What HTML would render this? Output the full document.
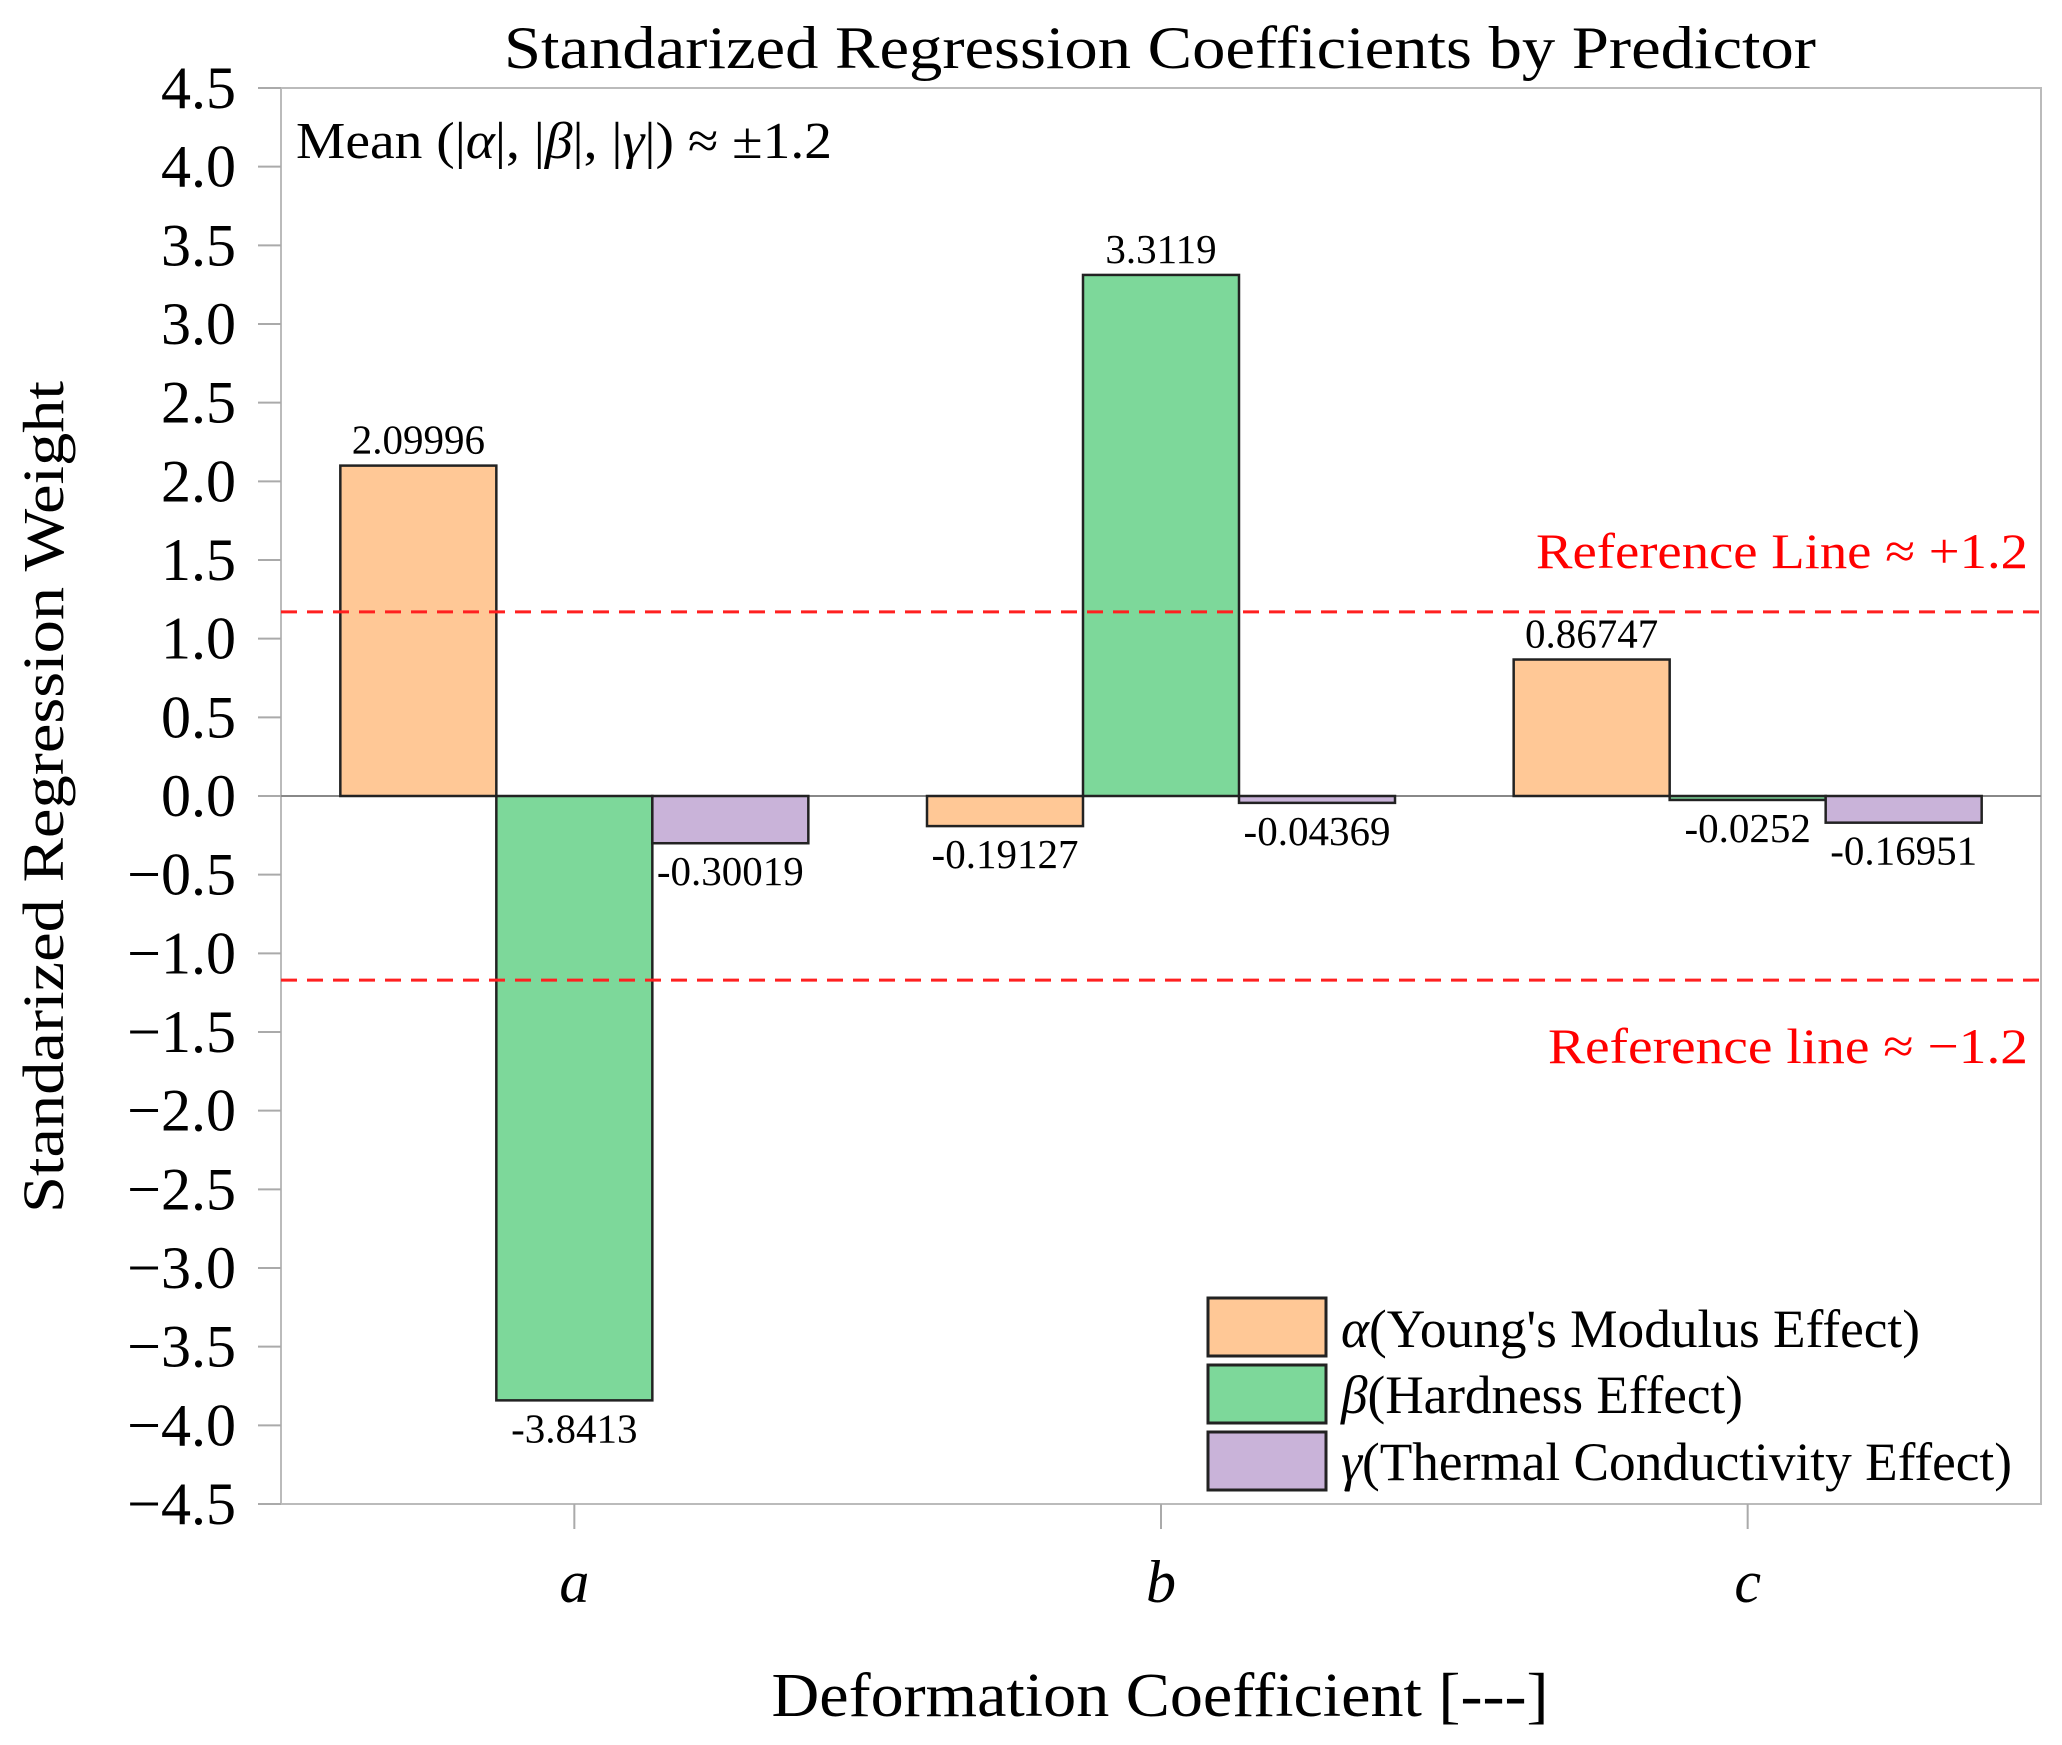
<!DOCTYPE html>
<html><head><meta charset="utf-8"><style>
html,body{margin:0;padding:0;background:#fff}
svg{display:block;font-family:"Liberation Serif",serif}
</style></head><body>
<svg id="chart" width="2062" height="1745" viewBox="0 0 2062 1745">
<text x="1160" y="68" font-size="60" text-anchor="middle" textLength="1312" lengthAdjust="spacingAndGlyphs">Standarized Regression Coefficients by Predictor</text>
<rect x="281" y="88" width="1760" height="1416" fill="none" stroke="#bbb" stroke-width="2"/>
<g id="yticks"></g><g id="xticks"></g><g id="bars"></g>
<text x="296" y="158" font-size="52" textLength="536" lengthAdjust="spacingAndGlyphs">Mean (|<tspan font-style="italic">α</tspan>|, |<tspan font-style="italic">β</tspan>|, |<tspan font-style="italic">γ</tspan>|) ≈ ±1.2</text>
<text x="1536" y="568" font-size="50" fill="#ff0000" textLength="492" lengthAdjust="spacingAndGlyphs">Reference Line ≈ +1.2</text>
<text x="1548" y="1063" font-size="50" fill="#ff0000" textLength="480" lengthAdjust="spacingAndGlyphs">Reference line ≈ −1.2</text>
<text x="63" y="797" font-size="58" text-anchor="middle" transform="rotate(-90 63 797)" textLength="832" lengthAdjust="spacingAndGlyphs">Standarized Regression Weight</text>
<text x="1160" y="1716" font-size="62" text-anchor="middle" textLength="777" lengthAdjust="spacingAndGlyphs">Deformation Coefficient [---]</text>
<g>
<rect x="1208" y="1298" width="118" height="58" fill="#ffc896" stroke="#222" stroke-width="3"/>
<text x="1341" y="1347" font-size="54" textLength="579" lengthAdjust="spacingAndGlyphs"><tspan font-style="italic">α</tspan>(Young's Modulus Effect)</text>
<rect x="1208" y="1365" width="118" height="58" fill="#7dd89a" stroke="#222" stroke-width="3"/>
<text x="1341" y="1413" font-size="54" textLength="402" lengthAdjust="spacingAndGlyphs"><tspan font-style="italic">β</tspan>(Hardness Effect)</text>
<rect x="1208" y="1432" width="118" height="58" fill="#c9b3d9" stroke="#222" stroke-width="3"/>
<text x="1341" y="1480" font-size="54" textLength="671" lengthAdjust="spacingAndGlyphs"><tspan font-style="italic">γ</tspan>(Thermal Conductivity Effect)</text>
</g>
</svg>
<script>
const categories = ['a','b','c'];
const alphaVals = [2.09996, -0.19127, 0.86747];
const betaVals = [-3.8413, 3.3119, -0.0252];
const gammaVals = [-0.30019, -0.04369, -0.16951];
const alphaLabels = ['2.09996','-0.19127','0.86747'];
const betaLabels = ['-3.8413','3.3119','-0.0252'];
const gammaLabels = ['-0.30019','-0.04369','-0.16951'];
const yTicks = [4.5,4.0,3.5,3.0,2.5,2.0,1.5,1.0,0.5,0.0,-0.5,-1.0,-1.5,-2.0,-2.5,-3.0,-3.5,-4.0,-4.5];
const refLevels = [1.17, -1.17];

const NS='http://www.w3.org/2000/svg';
const L=281,R=2041,T=88,B=1504;
function y(v){return T+(4.5-v)/9*(B-T);}
function x(i){return L+(i+0.5)/categories.length*(R-L);}
const bw=156;
function mk(tag,attrs,parent){const e=document.createElementNS(NS,tag);for(const k in attrs)e.setAttribute(k,attrs[k]);parent.appendChild(e);return e;}

const yg=document.getElementById('yticks');
yTicks.forEach(v=>{
  const l=mk('line',{x1:258,x2:L,y1:y(v),y2:y(v),stroke:'#aaa','stroke-width':2},yg);
  
  
  const t=mk('text',{x:236,y:y(v)+20,'font-size':60,'text-anchor':'end'},yg);
  t.textContent=(v<0?'\u2212':'')+Math.abs(v).toFixed(1);
  
  
});
const xg=document.getElementById('xticks');
categories.forEach((c,i)=>{
  const l=mk('line',{x1:x(i),x2:x(i),y1:B,y2:B+25,stroke:'#aaa','stroke-width':2},xg);
  
  
  const t=mk('text',{x:x(i),y:1602,'font-size':60,'font-style':'italic','text-anchor':'middle'},xg);
  t.textContent=c;
  
  
});
const bg=document.getElementById('bars');
const zl=mk('line',{x1:L,x2:R,y1:y(0),y2:y(0),stroke:'#888','stroke-width':2},bg);


const series=[[alphaVals,alphaLabels,'#ffc896','alpha'],[betaVals,betaLabels,'#7dd89a','beta'],[gammaVals,gammaLabels,'#c9b3d9','gamma']];
series.forEach((s,si)=>{
  s[0].forEach((v,i)=>{
    const cx=x(i)+(si-1)*bw;
    const top=Math.min(y(v),y(0)), h=Math.abs(y(v)-y(0));
    const r=mk('rect',{x:cx-bw/2,y:top,width:bw,height:Math.max(h,1),fill:s[2],stroke:'#222','stroke-width':2.5},bg);
    
    
    const t=mk('text',{x:cx,y:v>=0?y(v)-12:y(v)+42,'font-size':41,'text-anchor':'middle'},bg);
    t.textContent=s[1][i];
    
    
  });
});
refLevels.forEach(v=>{
  const l=mk('line',{x1:L,x2:R,y1:y(v),y2:y(v),stroke:'#ff2020','stroke-width':3,'stroke-dasharray':'16 10'},bg);
  
  
});
</script>
</body></html>
